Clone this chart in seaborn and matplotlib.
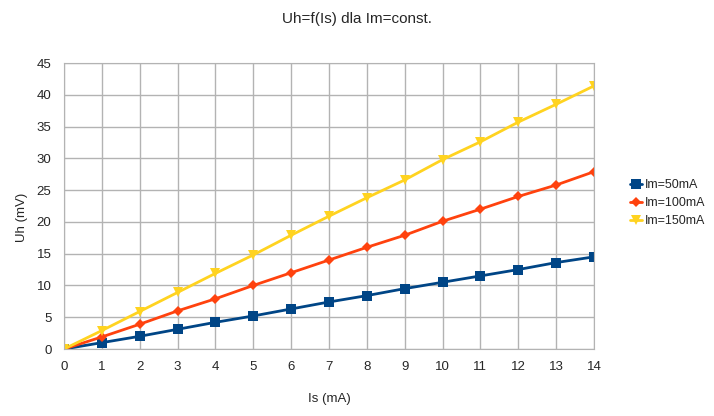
import pandas as pd
import matplotlib
matplotlib.use("Agg")
import matplotlib.pyplot as plt
import seaborn as sns

# data
i_s = list(range(15))
uh_50 = [0, 1.0, 2.0, 3.1, 4.2, 5.2, 6.3, 7.4, 8.4, 9.5, 10.5, 11.5, 12.5, 13.6, 14.5]
uh_100 = [0, 1.9, 3.9, 6.0, 7.9, 10.0, 12.0, 14.0, 16.0, 17.9, 20.1, 22.0, 24.0, 25.8, 27.9]
uh_150 = [0, 2.9, 5.9, 8.9, 11.9, 14.8, 17.9, 20.9, 23.8, 26.6, 29.8, 32.6, 35.7, 38.5, 41.4]
series = ["Im=50mA", "Im=100mA", "Im=150mA"]

df = pd.concat([
    pd.DataFrame({"Is": i_s, "Uh": uh_50, "series": series[0]}),
    pd.DataFrame({"Is": i_s, "Uh": uh_100, "series": series[1]}),
    pd.DataFrame({"Is": i_s, "Uh": uh_150, "series": series[2]}),
])

sns.set_style("white")
plt.rcParams['font.family'] = ['Liberation Sans', 'DejaVu Sans']

palette = {series[0]: "#004586", series[1]: "#ff420e", series[2]: "#ffd320"}
markers = {series[0]: "s", series[1]: "D", series[2]: "v"}

fig = plt.figure(figsize=(7.14, 4.16), dpi=100)
ax = fig.add_axes([64/714, 1 - 349/416, 530/714, 286/416])

sns.lineplot(data=df, x="Is", y="Uh", hue="series", style="series",
             palette=palette, markers=markers, dashes=False,
             linewidth=2, markersize=7, markeredgewidth=0, ax=ax)
# diamonds look smaller in the original
for line in ax.lines:
    if line.get_marker() == "D":
        line.set_markersize(5.5)

ax.set_xlim(0, 14)
ax.set_ylim(0, 45)
ax.set_xticks(range(0, 15))
ax.set_yticks(range(0, 46, 5))
ax.grid(True, color="#b3b3b3", linewidth=1)
ax.set_axisbelow(True)
for s in ax.spines.values():
    s.set_color("#b3b3b3")
ax.tick_params(length=6, color="#b3b3b3", labelsize=9.5, pad=3)
ax.set_xlabel("Is (mA)", fontsize=9.5, labelpad=14)
ax.set_ylabel("Uh (mV)", fontsize=9.5)
ax.yaxis.set_label_coords(-0.068, 0.46)

fig.suptitle("Uh=f(Is) dla Im=const.", fontsize=11, y=0.972)

leg = ax.legend(loc="center left", bbox_to_anchor=(1.058, 0.51), frameon=False,
                fontsize=9, handlelength=1.0, handletextpad=0.2, labelspacing=0.5,
                borderaxespad=0)

fig.savefig("out.png", dpi=100)
